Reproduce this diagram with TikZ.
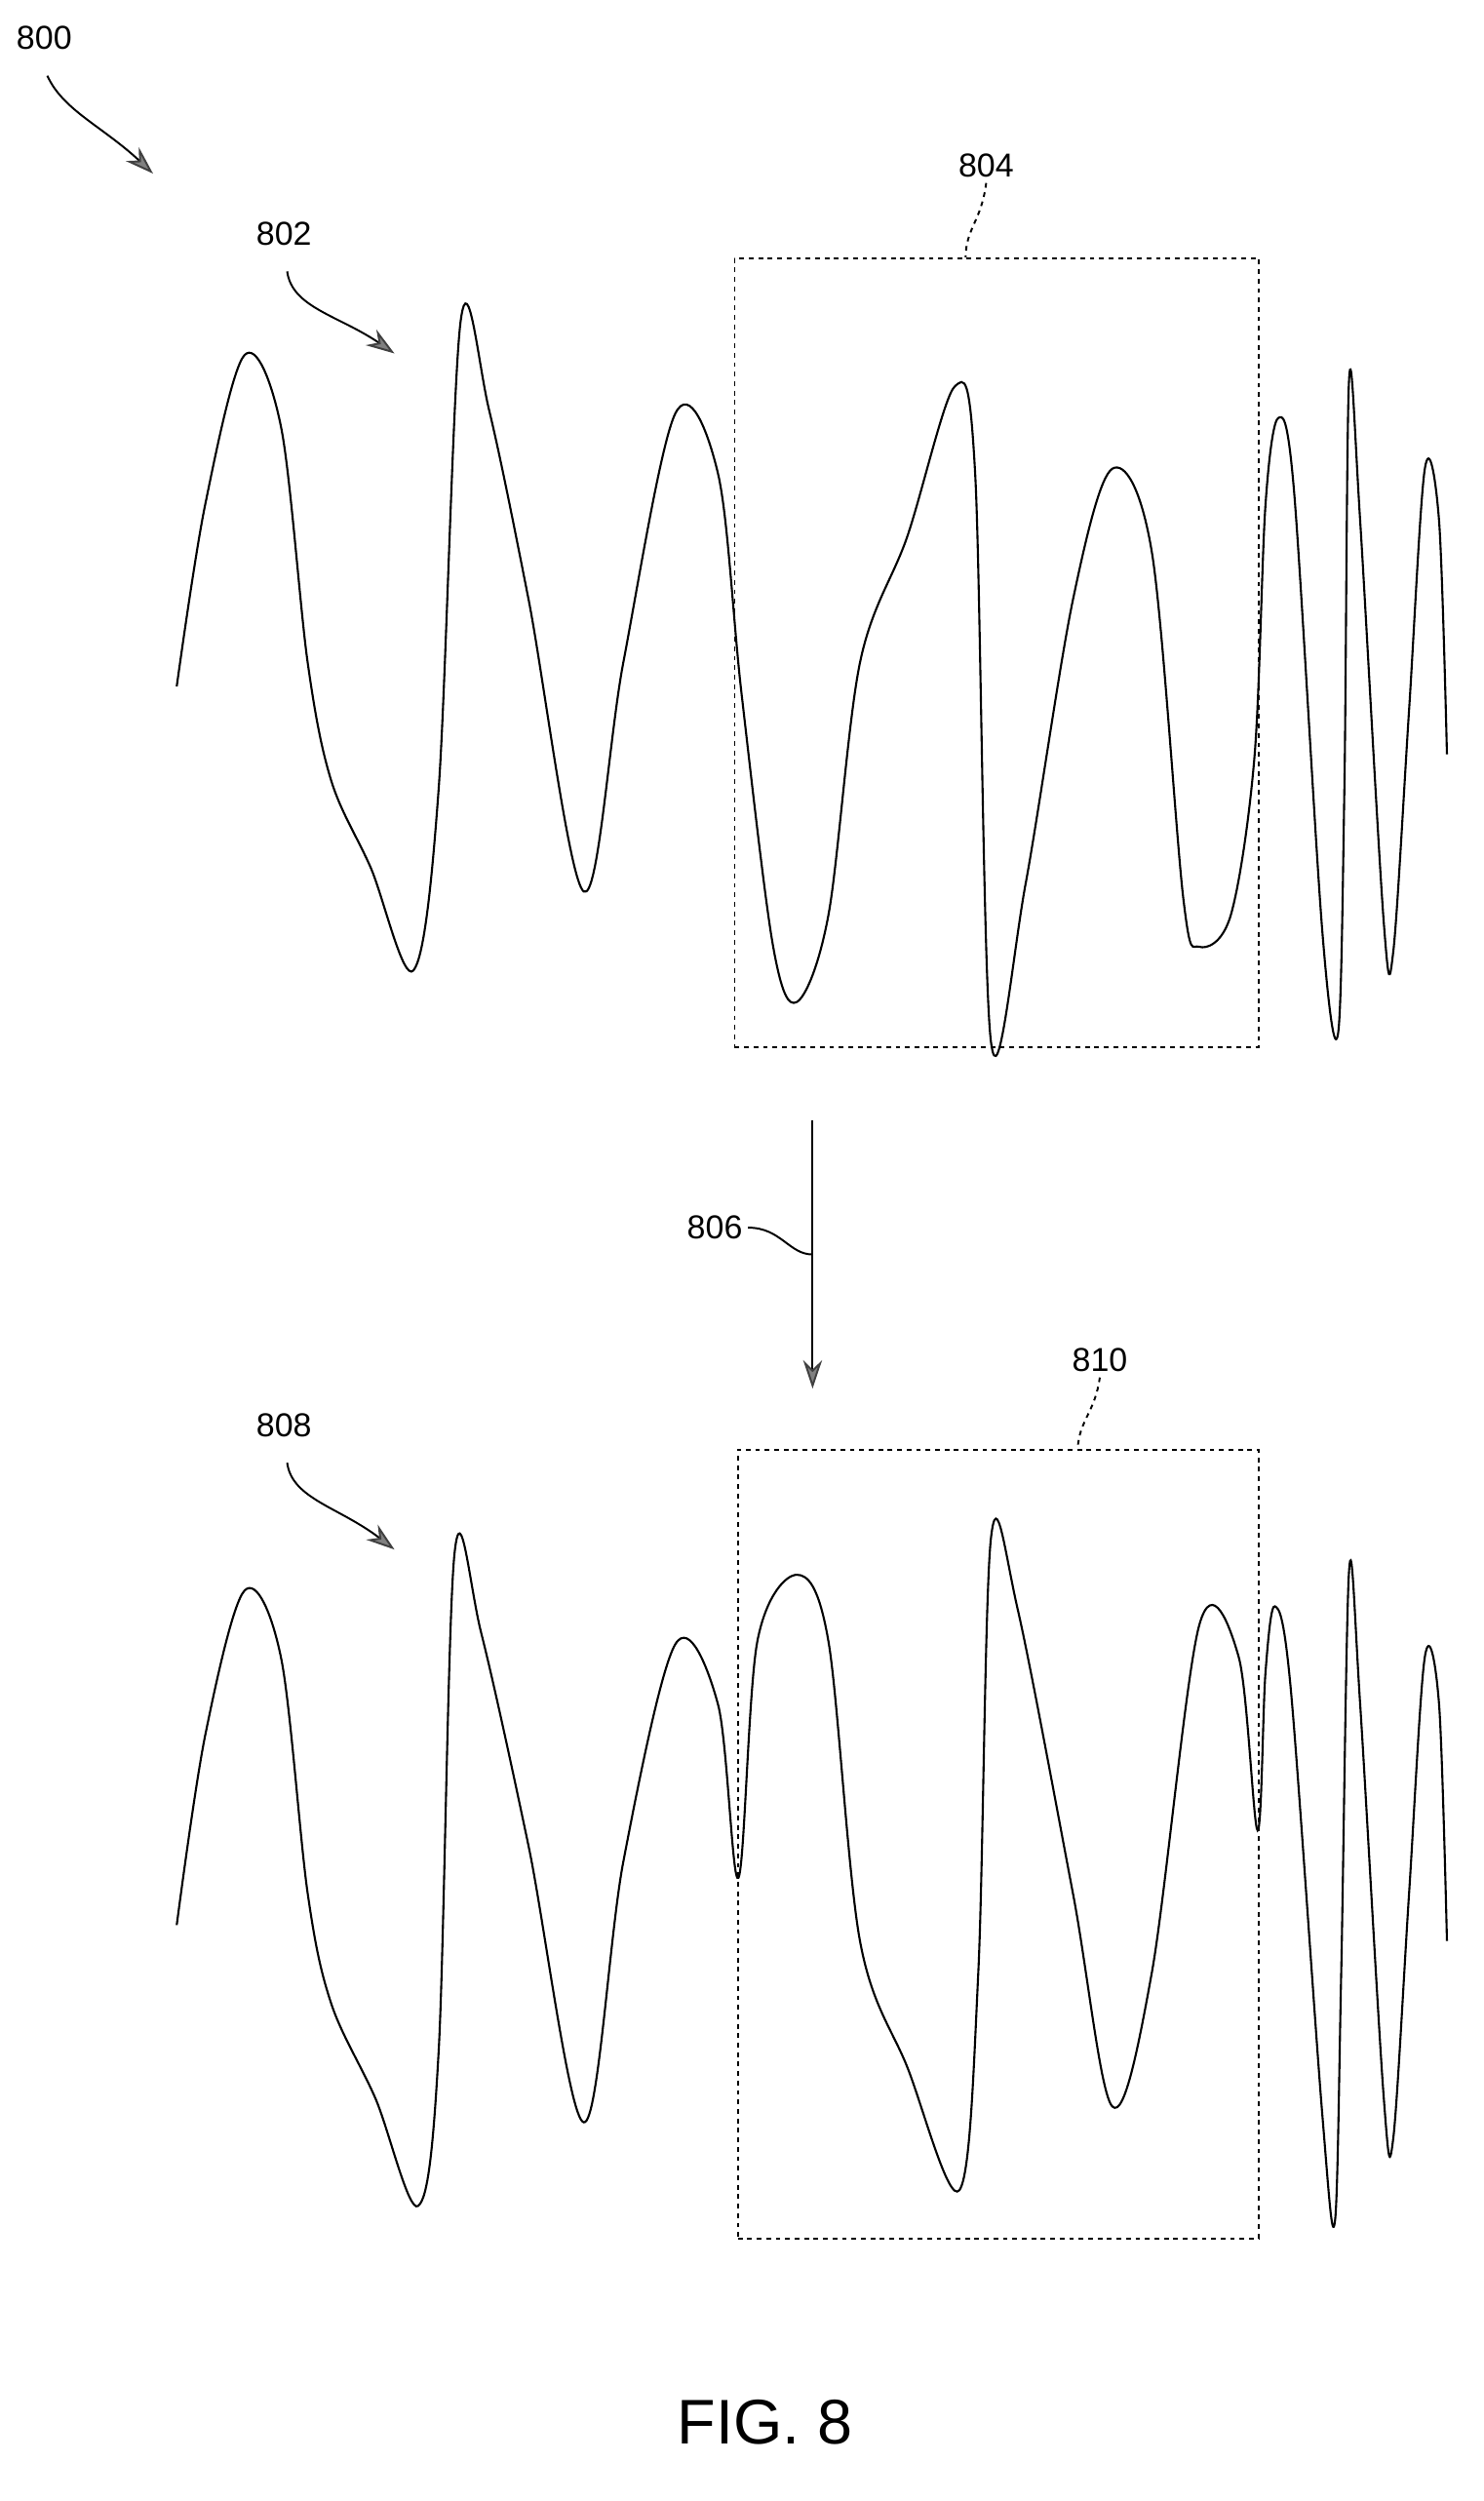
\documentclass[tikz,border=0pt]{standalone}
\usetikzlibrary{arrows.meta}
\usepackage{fontspec}
\setmainfont{Liberation Sans}
\begin{document}
\begin{tikzpicture}[x=1pt,y=-1pt,
  wave/.style={line width=1.3pt,smooth,tension=0.55},
  dbox/.style={draw,dashed,line width=1.2pt},
  lbl/.style={font=\fontsize{21}{21}\selectfont},
  garrow/.style={line width=1.2pt,-{Stealth[length=18pt,width=12pt,fill=gray,color=gray!50!black]}},
  lead/.style={line width=1.2pt}]
\useasboundingbox (0,0) rectangle (940,1585);
% top waveform
\draw[wave] plot coordinates {(112,435) (130,320) (155,225) (178,270) (195,420) (210,495) (235,550) (262,615) (278,500) (292,203) (310,260) (335,380) (370,565) (395,420) (428,262) (455,300) (470,440) (490,600) (505,635) (525,580) (545,420) (575,340) (605,245) (618,300) (628,660) (650,560) (680,380) (705,297) (730,350) (750,570) (760,600) (780,580) (795,480) (802,320) (810,265) (820,310) (838,590) (848,655) (852,500) (855,240) (862,330) (877,585) (883,603) (893,450) (903,297) (912,330) (917,478)};
\node[dbox,minimum width=332pt,minimum height=500pt,anchor=north west,inner sep=0] (b804) at (465,163) {};
% bottom waveform
\draw[wave] plot coordinates {(112,1220) (130,1100) (155,1008) (178,1050) (195,1200) (210,1270) (238,1330) (265,1398) (278,1300) (288,985) (305,1035) (335,1170) (370,1345) (395,1180) (428,1042) (455,1080) (468,1190) (480,1040) (505,998) (525,1040) (545,1230) (575,1310) (608,1388) (620,1250) (628,975) (645,1020) (680,1200) (705,1335) (730,1250) (760,1030) (785,1050) (797,1160) (802,1060) (808,1018) (818,1070) (838,1340) (846,1408) (850,1250) (855,995) (862,1080) (877,1330) (883,1355) (893,1200) (903,1050) (912,1080) (917,1230)};
\node[dbox,minimum width=330pt,minimum height=500pt,anchor=north west,inner sep=0] (b810) at (467,918) {};
% labels
\node[lbl] (l800) at (28,24) {800};
\coordinate (e800) at (97,110);
\draw[garrow] (30,48) .. controls (40,70) and (65,80) .. (e800);
\node[lbl] (l802) at (180,148) {802};
\coordinate (e802) at (250,224);
\draw[garrow] (182,172) .. controls (185,195) and (215,200) .. (e802);
\node[lbl] (l804) at (625,105) {804};
\draw[lead,dashed] (l804.south) .. controls (622,140) and (612,145) .. (b804.north -| 612,0);
\node[lbl] (l808) at (180,903) {808};
\coordinate (e808) at (250,982);
\draw[garrow] (182,927) .. controls (185,950) and (215,955) .. (e808);
\node[lbl] (l810) at (697,862) {810};
\draw[lead,dashed] (l810.south) .. controls (694,895) and (684,900) .. (b810.north -| 683,0);
% transform arrow
\coordinate (a1) at (515,710);
\coordinate (a2) at (515,880);
\draw[garrow] (a1) -- (a2);
\node[lbl] (l806) at (453,778) {806};
\draw[lead] (l806.east) .. controls (495,778) and (500,795) .. (515,795);
\node[font=\fontsize{40}{40}\selectfont] (fig) at (485,1535) {FIG. 8};
\end{tikzpicture}
\end{document}
